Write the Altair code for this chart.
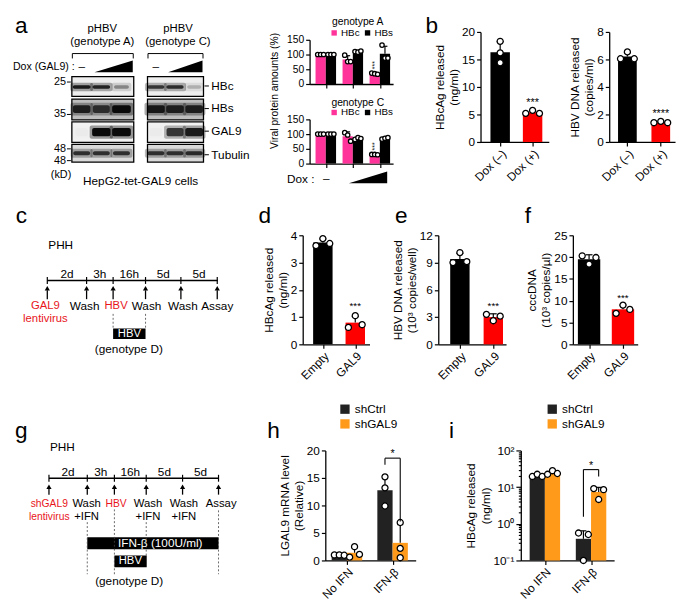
import json
import numpy as np
import pandas as pd
import altair as alt

FONT = "Liberation Sans"

# ============================== DATA ==============================
# Panel a - western blot, relative band intensity per lane (Dox -, low, high)
blot_targets = ["HBc", "HBs", "GAL9", "Tubulin"]
blot_mw = ["25", "35", "48", "48"]
blot_genoA = [[0.85, 0.80, 0.35], [0.80, 0.70, 1.00], [0.02, 0.95, 1.00], [0.72, 0.72, 0.72]]
blot_genoC = [[0.70, 0.75, 0.20], [0.85, 0.80, 0.80], [0.02, 0.70, 0.85], [0.72, 0.72, 0.75]]

# Panel a - quantification (% of Dox -), three replicates per Dox level
geno_series = ["HBc", "HBs"]
genoA_HBc = [[100, 100, 100], [98, 76, 76], [37, 35, 33]]
genoA_HBs = [[100, 100, 100], [110, 108, 112], [132, 88, 88]]
genoC_HBc = [[100, 100, 100], [105, 97, 76], [31, 31, 30]]
genoC_HBs = [[100, 100, 100], [82, 88, 85], [83, 86, 88]]

# Panel b
b_groups = ["Dox (–)", "Dox (+)"]
b_hbcag = [[18.3, 16.2, 14.4], [5.2, 5.75, 5.2]]
b_hbvdna = [[6.55, 6.05, 6.05], [1.4, 1.5, 1.4]]

# Panels d-f
def_groups = ["Empty", "GAL9"]
d_hbcag = [[3.88, 3.62, 3.70], [1.05, 0.62, 0.72]]
e_hbvdna = [[10.1, 9.0, 9.1], [3.3, 2.6, 3.1]]
f_cccdna = [[20.3, 18.4, 19.9], [9.0, 7.1, 8.0]]

# Panels h-i
hi_groups = ["No IFN", "IFN-β"]
hi_series = ["shCtrl", "shGAL9"]
h_shCtrl = [[1.0, 1.0, 0.95], [15.2, 13.2, 9.9]]
h_shGAL9 = [[2.5, 1.1, 0.6], [6.9, 2.2, 0.5]]
i_shCtrl = [[19.5, 22.4, 19.5], [0.56, 0.51, 0.10]]
i_shGAL9 = [[22.4, 28.0, 23.5], [9.1, 8.5, 4.6]]
h_bracket = [18.6, 17.4, 7.1]      # top, left end, right end
i_bracket = [30.0, 1.55, 19.5]

# Timelines
tl_durations = ["2d", "3h", "16h", "5d", "5d"]
c_events = ["GAL9", "Wash", "HBV", "Wash", "Wash", "Assay"]
c_events2 = ["lentivirus", "", "", "", "", ""]
g_events = ["shGAL9", "Wash", "HBV", "Wash", "Wash", "Assay"]
g_events2 = ["lentivirus", "+IFN", "", "+IFN", "+IFN", ""]
ev_red = [True, False, True, False, False, False]

# ============================== STYLE / LAYOUT ==============================
PINK, BLACK, RED, DARK, ORANGE = "#ff3399", "#000000", "#ff0000", "#222222", "#ff9a1a"
RED_TXT = "#e8151b"
S3 = 3  # bottom row drawn 3px higher

GEOM = {
    "genoA": dict(axis=312, first=328.5, spacing=27.5, right=397, top=34, bottom=79),
    "genoC": dict(axis=312, first=328.5, spacing=27.5, right=397, top=115, bottom=160),
    "b1": dict(axis=486.5, first=506.5, spacing=33, right=556, top=26, bottom=138),
    "b2": dict(axis=617, first=635.5, spacing=34, right=684, top=26, bottom=138),
    "d": dict(axis=305, first=325.5, spacing=33, right=373, top=233, bottom=344),
    "e": dict(axis=443, first=465, spacing=34, right=512, top=233, bottom=344),
    "f": dict(axis=580, first=596.5, spacing=34.5, right=646, top=233, bottom=344),
    "h": dict(axis=328, first=350, spacing=46.5, right=420, top=455.5 - S3, bottom=567.5 - S3),
    "i": dict(axis=527, first=551.5, spacing=47, right=622, top=455.5 - S3, bottom=567.5 - S3),
}

BLOT = dict(box_x={"A": (70, 133), "C": (147, 204)},
            lanes={"A": [80, 100, 120.5], "C": [155.5, 175, 194.5]},
            rows_y=[(71.5, 91.5), (94.5, 115.5), (117.5, 138.5), (140.5, 158.5)],
            band_cy=[82, 104.5, 128, 149.5], band_h=[3.5, 8, 8.5, 4],
            row_bg=["#eeeeee", "#bdbdbd", "#f2f2f2", "#dadada"],
            mw_y=[77, 110, 145, 157], lab_y=[81, 104, 127, 151])

TL_C = dict(ev_x=[45, 85, 112, 145, 181, 218], lab_x=[43, 83, 115, 146, 183, 218],
            line_y=279, dur_y=272, head_y=287, shaft=(289, 298), lab_y=(305, 318.5),
            fs=12, fs_red=11.5)
TL_G = dict(ev_x=[46.7, 85.7, 113.3, 145.7, 182.7, 219.3], lab_x=[47, 85, 115, 147.5, 184, 222],
            line_y=483.3 - S3, dur_y=477 - S3, head_y=492 - S3, shaft=(494 - S3, 500 - S3),
            lab_y=(509.5 - S3, 522.5 - S3), fs=11.5, fs_red=10.5)


# ============================== BAR PANELS ==============================
def build_bar(key, series, ngroups, color_mode, cdom, crange, hw, cap_px, jit_px,
              ydom, yvals, ytitle=None, log=False, ylab_fs=12, xlabels=None, xlab_fs=12,
              stars=(), star_fs=11, star_dy=-5, star_vertical=False, bracket=None,
              legend=None, pt_size=38, title_pad=1, ylabel_expr=None, ytick_cond=None):
    G = GEOM[key]
    sp = G["spacing"]
    dmin = -(G["first"] - G["axis"]) / sp
    dmax = (G["right"] - G["first"]) / sp
    W = G["right"] - G["axis"]
    H = G["bottom"] - G["top"]
    ns = len(series)
    bars, pts = [], []
    for k, (sname, reps, jits) in enumerate(series):
        for g in range(ngroups):
            vals = np.array(reps[g], float)
            m = vals.mean()
            sd = vals.std(ddof=1)
            if ns == 1:
                x0, x1 = g - hw, g + hw
            else:
                x0 = g - ns * hw + 2 * hw * k
                x1 = x0 + 2 * hw
            xc = (x0 + x1) / 2
            ck = sname if color_mode == "series" else str(g)
            bars.append(dict(key=ck, s=k, g=g, x0=x0, x1=x1, xc=xc, m=m, sd=sd, top=m + sd,
                             base=ydom[0], c0=xc - cap_px / sp, c1=xc + cap_px / sp))
            for v, j in zip(vals, jits[g]):
                pts.append(dict(x=xc + j * jit_px / sp, v=v))
    bdf = pd.DataFrame(bars)
    edf = bdf[bdf.sd > 1e-9]
    pdf = pd.DataFrame(pts)

    xsc = alt.Scale(domain=[dmin, dmax], nice=False, zero=False)
    if xlabels:
        expr = json.dumps(xlabels, ensure_ascii=False) + "[datum.value]"
        xax = alt.Axis(values=list(range(ngroups)), labelExpr=expr, labelAngle=-45,
                       labelFontSize=xlab_fs, title=None, labelPadding=2)
    else:
        xax = alt.Axis(values=list(range(ngroups)), labels=False, title=None)
    ysc = alt.Scale(domain=ydom, nice=False, zero=False, type="log" if log else "linear")
    yk = dict(values=yvals, title=ytitle, labelFontSize=ylab_fs, titlePadding=title_pad,
              titleLineHeight=14.5)
    if ylabel_expr:
        yk["labelExpr"] = ylabel_expr
    if ytick_cond:
        yk["tickSize"] = ytick_cond
    yax = alt.Axis(**yk)

    def X_(f):
        return alt.X(f"{f}:Q", scale=xsc, axis=xax)

    def Y_(f):
        return alt.Y(f"{f}:Q", scale=ysc, axis=yax)

    col = alt.Color("key:N", scale=alt.Scale(domain=cdom, range=crange), legend=legend)
    layers = [
        alt.Chart(bdf).mark_rect(opacity=1).encode(x=X_("x0"), x2="x1:Q", y=Y_("m"), y2="base:Q", color=col),
        alt.Chart(edf).mark_rule(color="black", strokeWidth=1.2).encode(x=X_("xc"), y=Y_("m"), y2="top:Q"),
        alt.Chart(edf).mark_rule(color="black", strokeWidth=1.2).encode(x=X_("c0"), x2="c1:Q", y=Y_("top")),
        alt.Chart(pdf).mark_point(shape="circle", filled=True, color="white", stroke="black",
                                  strokeWidth=1.3, size=pt_size, opacity=1).encode(x=X_("x"), y=Y_("v")),
    ]
    if stars:
        srows = []
        for (k, g, txt) in stars:
            r = bdf[(bdf.s == k) & (bdf.g == g)].iloc[0]
            srows.append(dict(x=r.xc, y=r.top, t=txt))
        sdf = pd.DataFrame(srows)
        if star_vertical:
            mk = alt.Chart(sdf).mark_text(font=FONT, fontSize=star_fs, color="black", angle=270,
                                          align="left", baseline="middle", dx=star_dy)
        else:
            mk = alt.Chart(sdf).mark_text(font=FONT, fontSize=star_fs, color="black",
                                          align="center", baseline="alphabetic", dy=star_dy)
        layers.append(mk.encode(x=X_("x"), y=Y_("y"), text="t:N"))
    if bracket:
        top, lend, rend = bracket
        xl, xr = 1 - hw, 1 + hw
        rdf = pd.DataFrame([dict(x=xl, x2=xr, y=top, y2=top), dict(x=xl, x2=xl, y=top, y2=lend),
                            dict(x=xr, x2=xr, y=top, y2=rend)])
        layers.append(alt.Chart(rdf).mark_rule(color="black", strokeWidth=1.1).encode(
            x=X_("x"), x2="x2:Q", y=Y_("y"), y2="y2:Q"))
        layers.append(alt.Chart(pd.DataFrame([dict(x=1.0, y=top, t="*")])).mark_text(
            font=FONT, fontSize=11, color="black", baseline="alphabetic", dy=-1).encode(
            x=X_("x"), y=Y_("y"), text="t:N"))
    ch = alt.layer(*layers).properties(width=W, height=H)
    return ch, G["axis"] - 8, G["top"] - 8


J3 = [[-1, 0, 1]] * 3
geno_leg = dict(orient="none", legendX=20, legendY=-12, direction="horizontal", title=None,
                symbolType="square", symbolSize=30, symbolStrokeWidth=0, labelFontSize=10,
                labelFont=FONT, labelColor="black", labelOffset=2, columnPadding=3, padding=0)
hi_leg = dict(orient="none", direction="vertical", title=None, symbolType="square",
              symbolSize=90, symbolStrokeWidth=0, labelFontSize=12, labelFont=FONT,
              labelColor="black", labelOffset=4, rowPadding=3, padding=0)

panels = []
for key, hbc, hbs in [("genoA", genoA_HBc, genoA_HBs), ("genoC", genoC_HBc, genoC_HBs)]:
    panels.append(build_bar(key, [("HBc", hbc, J3), ("HBs", hbs, J3)], 3, "series", geno_series,
                            [PINK, BLACK], hw=0.19, cap_px=2.5, jit_px=3, ydom=[0, 150],
                            yvals=[0, 50, 100, 150], ylab_fs=10.5, stars=[(0, 2, "***")],
                            star_fs=7, star_dy=4, star_vertical=True,
                            legend=alt.Legend(**geno_leg), pt_size=20))
panels.append(build_bar("b1", [("s", b_hbcag, [[0, 0, 0], [-1, 0, 1]])], 2, "group", ["0", "1"],
                        [BLACK, RED], hw=0.30, cap_px=3.5, jit_px=7, ydom=[0, 20],
                        yvals=[0, 5, 10, 15, 20], ytitle=["HBcAg released", "(ng/ml)"],
                        xlabels=b_groups, stars=[(0, 1, "***")], star_dy=-5))
panels.append(build_bar("b2", [("s", b_hbvdna, [[0, -1, 1], [-1, 0, 1]])], 2, "group", ["0", "1"],
                        [BLACK, RED], hw=0.28, cap_px=3.5, jit_px=7, ydom=[0, 8],
                        yvals=[0, 2, 4, 6, 8], ytitle=["HBV DNA released", "(copies/ml)"],
                        xlabels=b_groups, stars=[(0, 1, "****")], star_dy=-5))
panels.append(build_bar("d", [("s", d_hbcag, [[0, -1, 1], [0, -1, 1]])], 2, "group", ["0", "1"],
                        [BLACK, RED], hw=0.30, cap_px=3.5, jit_px=7, ydom=[0, 4],
                        yvals=[0, 1, 2, 3, 4], ytitle=["HBcAg released", "(ng/ml)"],
                        xlabels=def_groups, stars=[(0, 1, "***")], star_fs=10, star_dy=-8))
panels.append(build_bar("e", [("s", e_hbvdna, [[0, -1, 1], [-1, 0, 1]])], 2, "group", ["0", "1"],
                        [BLACK, RED], hw=0.29, cap_px=3.5, jit_px=7, ydom=[0, 12],
                        yvals=[0, 3, 6, 9, 12], ytitle=["HBV DNA released", "(10³ copies/well)"],
                        xlabels=def_groups, stars=[(0, 1, "***")], star_fs=10, star_dy=-5))
panels.append(build_bar("f", [("s", f_cccdna, [[-1, 0, 1], [0, -1, 1]])], 2, "group", ["0", "1"],
                        [BLACK, RED], hw=0.33, cap_px=3.5, jit_px=7, ydom=[0, 25],
                        yvals=[0, 5, 10, 15, 20, 25], ytitle=["cccDNA", "(10³ copies/µl)"],
                        xlabels=def_groups, stars=[(0, 1, "***")], star_fs=10, star_dy=-4))
panels.append(build_bar("h", [("shCtrl", h_shCtrl, [[-1, 0, 1], [0, 0, 0]]),
                              ("shGAL9", h_shGAL9, [[0, 1, -1], [0, 0, 0]])], 2, "series", hi_series,
                        [DARK, ORANGE], hw=0.167, cap_px=3, jit_px=5, ydom=[0, 20],
                        yvals=[0, 5, 10, 15, 20], ytitle=["LGAL9 mRNA level", "(Relative)"],
                        xlabels=hi_groups, bracket=h_bracket,
                        legend=alt.Legend(legendX=14, legendY=-48, **hi_leg)))
log_vals = [round(b * 10.0 ** p, 6) for p in (-1, 0, 1) for b in range(1, 10)] + [100.0]
i_expr = ("datum.value==100?'10²':datum.value==10?'10¹':datum.value==1?'10⁰':"
          "datum.value==0.1?'10⁻¹':''")
i_tick = {"condition": {"test": "datum.value==0.1||datum.value==1||datum.value==10||datum.value==100",
                        "value": 5}, "value": 2.5}
panels.append(build_bar("i", [("shCtrl", i_shCtrl, [[-1, 0, 1], [-1, 1, 0]]),
                              ("shGAL9", i_shGAL9, [[-1, 0, 1], [-1, 1, 0]])], 2, "series", hi_series,
                        [DARK, ORANGE], hw=0.165, cap_px=3, jit_px=5, ydom=[0.1, 100],
                        yvals=log_vals, ytitle=["HBcAg released", "(ng/ml)"], log=True,
                        xlabels=hi_groups, bracket=i_bracket, ylabel_expr=i_expr,
                        ytick_cond=i_tick, legend=alt.Legend(legendX=26, legendY=-48, **hi_leg)))

# ============================== CANVAS (blot + diagrams) ==============================
XS = alt.Scale(domain=[8, 685], nice=False, zero=False)
YS = alt.Scale(domain=[8, 604], nice=False, zero=False, reverse=True)


def CX(f="x"):
    return alt.X(f"{f}:Q", scale=XS, axis=None)


def CY(f="y"):
    return alt.Y(f"{f}:Q", scale=YS, axis=None)


TXT, RULES, DASH, BG, BANDS, OUTL, BOXES, AREAS, HEADS = {}, [], [], [], [], [], [], [], []


def add_text(x, y, t, size=12, color="black", align="center", baseline="middle", angle=0):
    TXT.setdefault((size, color, align, baseline, angle), []).append((x, y, t))


def add_rule(x, y, x2, y2, w=1.0):
    RULES.append(dict(x=x, y=y, x2=x2, y2=y2, w=w))


# letters
for t, x, y in [("a", 12, 27), ("b", 430, 27), ("c", 13, 220), ("d", 260, 220), ("e", 399, 220),
                ("f", 531, 220), ("g", 12, 442 - S3), ("h", 269, 442 - S3), ("i", 454, 442 - S3)]:
    add_text(x, y, t, size=23, align="left", baseline="alphabetic")

# ---- panel a blot
for geno, inten, cx in [("A", blot_genoA, 101), ("C", blot_genoC, 178)]:
    add_text(cx, 23.5, "pHBV", size=11.5)
    add_text(cx, 36.5, f"(genotype {geno})", size=11.5)
    x0, x1 = BLOT["box_x"][geno]
    add_rule(x0 + 0.5, 48, x1 - 0.5, 48)
    add_rule(x0 + 0.5, 48, x0 + 0.5, 53)
    add_rule(x1 - 0.5, 48, x1 - 0.5, 53)
    lanes = BLOT["lanes"][geno]
    add_text(lanes[0], 60.5, "–", size=12)
    AREAS.append(dict(id=geno, x=lanes[1] - 7, y=67, y2=67))
    AREAS.append(dict(id=geno, x=x1 - 1, y=55, y2=67))
    for ri in range(len(blot_targets)):
        y0, y1 = BLOT["rows_y"][ri]
        BG.append(dict(x=x0, x2=x1, y=y0, y2=y1, fill=BLOT["row_bg"][ri]))
        OUTL.append(dict(x=x0, x2=x1, y=y0, y2=y1))
        cy, h = BLOT["band_cy"][ri], BLOT["band_h"][ri]
        for li, lx in enumerate(lanes):
            a = inten[ri][li]
            w = 13 + 6 * a
            BANDS.append(dict(x=lx - w / 2 - 2.5, x2=lx + w / 2 + 2.5, y=cy - h / 2 - 2.5,
                              y2=cy + h / 2 + 2.5, op=0.4 * a))
            BANDS.append(dict(x=lx - w / 2, x2=lx + w / 2, y=cy - h / 2, y2=cy + h / 2, op=min(1.0, 1.05 * a)))
add_text(73, 61.5, "Dox (GAL9) :", size=10.8, align="right")
for mw, y in zip(blot_mw, BLOT["mw_y"]):
    add_text(64, y, mw, size=11, align="right")
    add_rule(65, y, 69, y)
add_text(59, 172, "(kD)", size=11)
for t, y in zip(blot_targets, BLOT["lab_y"]):
    add_rule(205, y, 209.5, y)
    add_text(212, y, t, size=12, align="left")
add_text(140, 178, "HepG2-tet-GAL9 cells", size=12)

# ---- panel a quantification labels
add_text(277, 86, "Viral protein amounts (%)", size=10.5, angle=270)
add_text(361, 15.5, "genotype A", size=10.5)
add_text(361, 98, "genotype C", size=10.5)
add_text(317, 176, "Dox :", size=12, align="right")
add_text(329, 175, "–", size=12)
AREAS.append(dict(id="q", x=352, y=180, y2=180))
AREAS.append(dict(id="q", x=391, y=168, y2=180))


# ---- timelines
def timeline(T, events, events2, yoff_phh, extra):
    ev = T["ev_x"]
    add_text(ev[0] + 1, yoff_phh, "PHH", size=12, align="left")
    add_rule(ev[0], T["line_y"], ev[-1] + 0.5, T["line_y"], w=1.6)
    for x in ev:
        add_rule(x, T["line_y"] - 3.5, x, T["line_y"] + 3.5, w=1.2)
        add_rule(x, T["shaft"][0], x, T["shaft"][1], w=1.3)
        HEADS.append(dict(x=x, y=T["head_y"]))
    for i, d in enumerate(tl_durations):
        add_text((ev[i] + ev[i + 1]) / 2, T["dur_y"], d, size=12)
    for lx, t1, t2, red in zip(T["lab_x"], events, events2, ev_red):
        col = RED_TXT if red else "black"
        fs = T["fs_red"] if red else T["fs"]
        add_text(lx, T["lab_y"][0], t1, size=fs, color=col)
        if t2:
            add_text(lx, T["lab_y"][1], t2, size=fs, color=col)
    extra()


def extra_c():
    ev = TL_C["ev_x"]
    for x in (ev[2], ev[3]):
        DASH.append(dict(x=x, y=313, x2=x, y2=328))
    BOXES.append(dict(x=ev[2], x2=ev[3], y=328, y2=338.5))
    add_text((ev[2] + ev[3]) / 2, 333.5, "HBV", size=11.5, color="white")
    add_text(128, 348.5, "(genotype D)", size=12)


def extra_g():
    ev = TL_G["ev_x"]
    for x, y0, y1 in [(ev[1], 528, 581), (ev[2], 515, 581), (ev[3], 528, 562), (ev[5], 516, 581)]:
        DASH.append(dict(x=x, y=y0 - S3, x2=x, y2=y1 - S3))
    BOXES.append(dict(x=ev[1], x2=ev[5], y=543.3 - S3, y2=555.5 - S3))
    add_text(160, 549.5 - S3, "IFN-β (100U/ml)", size=12, color="white")
    BOXES.append(dict(x=ev[2], x2=ev[3] + 0.5, y=562 - S3, y2=574 - S3))
    add_text((ev[2] + ev[3]) / 2, 568 - S3, "HBV", size=11.5, color="white")
    add_text(128.3, 588.3 - S3, "(genotype D)", size=12)


timeline(TL_C, c_events, c_events2, 243, extra_c)
timeline(TL_G, g_events, g_events2, 452 - S3, extra_g)

enc4 = dict(x=CX(), x2=alt.X2("x2:Q"), y=CY(), y2=alt.Y2("y2:Q"))
cl = [
    alt.Chart(pd.DataFrame(BG)).mark_rect().encode(color=alt.Color("fill:N", scale=None), **enc4),
    alt.Chart(pd.DataFrame(BANDS)).mark_rect(color="#0a0a0a", cornerRadius=2).encode(
        opacity=alt.Opacity("op:Q", scale=None), **enc4),
    alt.Chart(pd.DataFrame(OUTL)).mark_rect(fill="white", fillOpacity=0, stroke="black", strokeWidth=1.3).encode(**enc4),
    alt.Chart(pd.DataFrame(BOXES)).mark_rect(color="black").encode(**enc4),
    alt.Chart(pd.DataFrame(DASH)).mark_rule(color="#444444", strokeWidth=0.8, strokeDash=[2, 2]).encode(**enc4),
    alt.Chart(pd.DataFrame(RULES)).mark_rule(color="black").encode(
        strokeWidth=alt.StrokeWidth("w:Q", scale=None), **enc4),
    alt.Chart(pd.DataFrame(AREAS)).mark_area(color="black", opacity=1).encode(
        x=CX(), y=CY(), y2=alt.Y2("y2:Q"), detail="id:N"),
    alt.Chart(pd.DataFrame(HEADS)).mark_point(shape="triangle-up", filled=True, color="black",
                                              size=28, opacity=1).encode(x=CX(), y=CY()),
]
for (size, color, align, baseline, angle), rows in TXT.items():
    kw = dict(font=FONT, fontSize=size, color=color, align=align, baseline=baseline)
    if angle:
        kw["angle"] = angle
    cl.append(alt.Chart(pd.DataFrame(rows, columns=["x", "y", "t"])).mark_text(**kw).encode(
        x=CX(), y=CY(), text="t:N"))
canvas = alt.layer(*cl).properties(width=677, height=596)


# ============================== ASSEMBLY ==============================
def spacer(w, h):
    return alt.Chart(pd.DataFrame({"z": [0]})).mark_point(opacity=0).properties(
        width=max(1, int(round(w))), height=max(1, int(round(h))))


def indep(c):
    return c.resolve_scale(x="independent", y="independent", color="independent").resolve_legend(
        color="independent")


def place(ch, left, top):
    row = indep(alt.hconcat(spacer(left, 1), ch, spacing=0, bounds="flush"))
    return indep(alt.vconcat(spacer(1, top), row, spacing=0, bounds="flush"))


items = [place(ch, l, t) for (ch, l, t) in panels] + [canvas]
fig = indep(alt.hconcat(*items, spacing=0, bounds="flush")).properties(padding=0)
fig = fig.configure_view(stroke="transparent").configure_axis(
    labelFont=FONT, titleFont=FONT, labelColor="black", titleColor="black", tickColor="black",
    domainColor="black", grid=False, labelFontSize=12, titleFontSize=12, titleFontWeight="normal",
    tickSize=4, tickWidth=1.2, domainWidth=1.3, labelPadding=2, labelOverlap=False
).configure_legend(labelFont=FONT, labelColor="black")

fig.save("out.html", embed_options={"renderer": "svg", "actions": False})
